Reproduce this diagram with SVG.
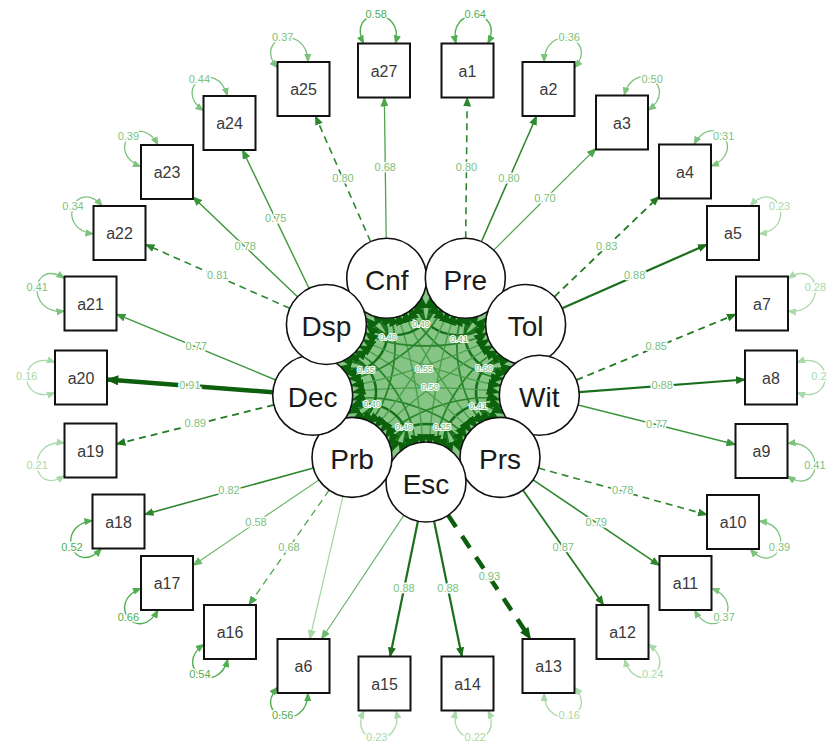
<svg xmlns="http://www.w3.org/2000/svg" xmlns:xlink="http://www.w3.org/1999/xlink" width="831" height="753" viewBox="0 0 831 753">
<style>
.bg{fill:#ffffff}
.box rect{fill:#ffffff;stroke:#111;stroke-width:2}
.box text{font-family:"Liberation Sans",Arial,sans-serif;font-size:16px;fill:#3a3a3a;text-anchor:middle}
.lat circle{fill:#ffffff;stroke:#111;stroke-width:1.6}
.lat text{font-family:"Liberation Sans",Arial,sans-serif;font-size:28px;fill:#1a1a1a;text-anchor:middle}
.e{fill:none}
.d{stroke-dasharray:7 5}
.w93{stroke:#0d5e0d;stroke-width:4.5}
.w88{stroke:#1b6f1b;stroke-width:2.2}
.w85{stroke:#237a23;stroke-width:1.8}
.w80{stroke:#2e862e;stroke-width:1.6}
.w75{stroke:#3c963c;stroke-width:1.4}
.w68{stroke:#4ea54e;stroke-width:1.3}
.w58{stroke:#6cb86c;stroke-width:1.2}
.wlo{stroke:#a5d6a5;stroke-width:1.2}
.lbl{font-family:"Liberation Sans",Arial,sans-serif;font-size:11px;fill:#7cbf7c;text-anchor:middle;dominant-baseline:middle;stroke:#ffffff;stroke-width:3;paint-order:stroke}
.rl{fill:none;stroke:#a9d9a9;stroke-width:1.3}
.rm{fill:none;stroke:#7dc27d;stroke-width:1.3}
.rh{fill:none;stroke:#4fae4f;stroke-width:1.4}
.tl{fill:#a9d9a9}
.tm{fill:#7dc27d}
.th{fill:#4fae4f}
.cov{fill:none}
.clbl{font-family:"Liberation Sans",Arial,sans-serif;font-size:9px;fill:#6fb86f;text-anchor:middle;dominant-baseline:middle;stroke:#ffffff;stroke-width:2;paint-order:stroke}
</style>
<defs>
<marker id="m93" viewBox="0 0 10 8" refX="9" refY="4" markerWidth="13" markerHeight="10" markerUnits="userSpaceOnUse" orient="auto-start-reverse"><path d="M0,0 L10,4 L0,8 z" fill="#0d5e0d"/></marker>
<marker id="m88" viewBox="0 0 10 8" refX="9" refY="4" markerWidth="10" markerHeight="8" markerUnits="userSpaceOnUse" orient="auto-start-reverse"><path d="M0,0 L10,4 L0,8 z" fill="#1b6f1b"/></marker>
<marker id="m85" viewBox="0 0 10 8" refX="9" refY="4" markerWidth="10" markerHeight="8" markerUnits="userSpaceOnUse" orient="auto-start-reverse"><path d="M0,0 L10,4 L0,8 z" fill="#237a23"/></marker>
<marker id="m80" viewBox="0 0 10 8" refX="9" refY="4" markerWidth="10" markerHeight="8" markerUnits="userSpaceOnUse" orient="auto-start-reverse"><path d="M0,0 L10,4 L0,8 z" fill="#2e862e"/></marker>
<marker id="m75" viewBox="0 0 10 8" refX="9" refY="4" markerWidth="10" markerHeight="8" markerUnits="userSpaceOnUse" orient="auto-start-reverse"><path d="M0,0 L10,4 L0,8 z" fill="#3c963c"/></marker>
<marker id="m68" viewBox="0 0 10 8" refX="9" refY="4" markerWidth="10" markerHeight="8" markerUnits="userSpaceOnUse" orient="auto-start-reverse"><path d="M0,0 L10,4 L0,8 z" fill="#4ea54e"/></marker>
<marker id="m58" viewBox="0 0 10 8" refX="9" refY="4" markerWidth="10" markerHeight="8" markerUnits="userSpaceOnUse" orient="auto-start-reverse"><path d="M0,0 L10,4 L0,8 z" fill="#6cb86c"/></marker>
<marker id="mlo" viewBox="0 0 10 8" refX="9" refY="4" markerWidth="10" markerHeight="8" markerUnits="userSpaceOnUse" orient="auto-start-reverse"><path d="M0,0 L10,4 L0,8 z" fill="#a5d6a5"/></marker>
<marker id="mrl" viewBox="0 0 10 8" refX="9" refY="4" markerWidth="9" markerHeight="8" markerUnits="userSpaceOnUse" orient="auto-start-reverse"><path d="M0,0 L10,4 L0,8 z" fill="#a9d9a9"/></marker>
<marker id="mrm" viewBox="0 0 10 8" refX="9" refY="4" markerWidth="9" markerHeight="8" markerUnits="userSpaceOnUse" orient="auto-start-reverse"><path d="M0,0 L10,4 L0,8 z" fill="#7dc27d"/></marker>
<marker id="mrh" viewBox="0 0 10 8" refX="9" refY="4" markerWidth="9" markerHeight="8" markerUnits="userSpaceOnUse" orient="auto-start-reverse"><path d="M0,0 L10,4 L0,8 z" fill="#4fae4f"/></marker>
<marker id="mcv" viewBox="0 0 10 8" refX="9" refY="4" markerWidth="14" markerHeight="12" markerUnits="userSpaceOnUse" orient="auto-start-reverse"><path d="M0,0 L10,4 L0,8 z" fill="#0c620c"/></marker>
<g id="covset">
<path class="cov" d="M84.36,25.71 C50.6,15.4 48.7,20.7 81.15,34.54" stroke="#1a751a" stroke-width="2.4" marker-start="url(#mcv)" marker-end="url(#mcv)"/>
<path class="cov" d="M79.87,19.13 C47.9,11.5 19.6,45.2 32.71,75.34" stroke="#16701a" stroke-width="2.6" marker-start="url(#mcv)" marker-end="url(#mcv)"/>
<path class="cov" d="M76.78,11.79 C46.1,7.1 -16.9,43.4 -28.18,72.39" stroke="#2a862a" stroke-width="1.8" marker-start="url(#mcv)" marker-end="url(#mcv)"/>
<path class="cov" d="M75.2,3.98 C45.1,2.4 -41.6,17.7 -69.31,29.46" stroke="#4a9f4a" stroke-width="1.4" marker-start="url(#mcv)" marker-end="url(#mcv)"/>
</g>
</defs>
<rect class="bg" x="0" y="0" width="831" height="753"/>

<g id="connectors">
<polygon points="426,278.3 495.5,301.4 532.5,359.9 519.7,426.4 463,469.7 389,469.7 332.4,426.4 319.6,359.9 356.6,301.4" fill="#86c586"/>
<g id="covariances">
<use xlink:href="#covset" transform="translate(426 377) scale(1 0.913) rotate(-110)"/>
<use xlink:href="#covset" transform="translate(426 377) scale(1 0.913) rotate(-70)"/>
<use xlink:href="#covset" transform="translate(426 377) scale(1 0.913) rotate(-30)"/>
<use xlink:href="#covset" transform="translate(426 377) scale(1 0.913) rotate(10)"/>
<use xlink:href="#covset" transform="translate(426 377) scale(1 0.913) rotate(50)"/>
<use xlink:href="#covset" transform="translate(426 377) scale(1 0.913) rotate(90)"/>
<use xlink:href="#covset" transform="translate(426 377) scale(1 0.913) rotate(130)"/>
<use xlink:href="#covset" transform="translate(426 377) scale(1 0.913) rotate(170)"/>
<use xlink:href="#covset" transform="translate(426 377) scale(1 0.913) rotate(210)"/>
<text class="clbl" x="421" y="325">0.40</text>
<text class="clbl" x="388" y="338">0.40</text>
<text class="clbl" x="459" y="340">0.41</text>
<text class="clbl" x="366" y="371">0.65</text>
<text class="clbl" x="484" y="369">0.60</text>
<text class="clbl" x="372" y="405">0.40</text>
<text class="clbl" x="478" y="407">0.41</text>
<text class="clbl" x="404" y="428">0.40</text>
<text class="clbl" x="442" y="428">0.25</text>
<text class="clbl" x="424" y="370">0.55</text>
<text class="clbl" x="430" y="388">0.50</text>
</g>

<g id="loadings">
<path class="e w68" d="M386.2,238.3 L384.35,97.5" marker-end="url(#m68)"/>
<path class="e w80 d" d="M370.6,241.7 L315.4,116" marker-end="url(#m80)"/>
<path class="e w80 d" d="M465.7,238.3 L467.2,97.5" marker-end="url(#m80)"/>
<path class="e w80" d="M481.4,241.7 L536.6,116" marker-end="url(#m80)"/>
<path class="e w68" d="M493.7,250.1 L596,148.4" marker-end="url(#m68)"/>
<path class="e w85 d" d="M554.4,296.8 L659,196.5" marker-end="url(#m85)"/>
<path class="e w88" d="M562.2,308.3 L707,244.5" marker-end="url(#m88)"/>
<path class="e w85 d" d="M576.3,380.1 L736,314.2" marker-end="url(#m85)"/>
<path class="e w88" d="M579.2,392.2 L745,379.5" marker-end="url(#m88)"/>
<path class="e w75" d="M578.1,405 L735.5,444.5" marker-end="url(#m75)"/>
<path class="e w80 d" d="M538.5,468.1 L707,514.8" marker-end="url(#m80)"/>
<path class="e w80" d="M533.1,479.8 L659.5,565.4" marker-end="url(#m80)"/>
<path class="e w85" d="M523,490.2 L603.6,605" marker-end="url(#m85)"/>
<path class="e w93" d="M448.2,515.3 L530.5,639" stroke-dasharray="14 11" marker-end="url(#m93)"/>
<path class="e w88" d="M434.1,521.2 L461.9,656.5" marker-end="url(#m88)"/>
<path class="e w88" d="M417.9,521.2 L390.1,656.5" marker-end="url(#m88)"/>
<path class="e w58" d="M403.8,515.3 L321.5,639" marker-end="url(#m58)"/>
<path class="e wlo" d="M342.9,496.4 L309.8,639" marker-end="url(#mlo)"/>
<path class="e w68 d" d="M329.1,490.2 L248.8,605" marker-end="url(#m68)"/>
<path class="e w58" d="M318.9,479.9 L193,565.4" marker-end="url(#m58)"/>
<path class="e w80" d="M313.4,468 L144.5,514.4" marker-end="url(#m80)"/>
<path class="e w85 d" d="M273.9,404.9 L116.5,444" marker-end="url(#m85)"/>
<path class="e w93" d="M272.8,392.2 L107,379.5" marker-end="url(#m93)"/>
<path class="e w75" d="M275.7,380 L116.5,314.2" marker-end="url(#m75)"/>
<path class="e w80 d" d="M289.8,308.3 L145.5,244.5" marker-end="url(#m80)"/>
<path class="e w75" d="M297.5,296.8 L193,196.9" marker-end="url(#m75)"/>
<path class="e w75" d="M309.1,288.5 L242.5,150" marker-end="url(#m75)"/>
<text class="lbl" x="385.3" y="168">0.68</text>
<text class="lbl" x="343" y="179">0.80</text>
<text class="lbl" x="466.5" y="168">0.80</text>
<text class="lbl" x="509" y="179">0.80</text>
<text class="lbl" x="545" y="199">0.70</text>
<text class="lbl" x="606.7" y="247">0.83</text>
<text class="lbl" x="634.6" y="276.4">0.88</text>
<text class="lbl" x="656.2" y="347.2">0.85</text>
<text class="lbl" x="662.1" y="386">0.88</text>
<text class="lbl" x="656.8" y="425">0.77</text>
<text class="lbl" x="622.8" y="491.5">0.78</text>
<text class="lbl" x="596.3" y="522.6">0.79</text>
<text class="lbl" x="563.3" y="547.6">0.87</text>
<text class="lbl" x="489.4" y="577.2">0.93</text>
<text class="lbl" x="448" y="589">0.88</text>
<text class="lbl" x="404" y="589">0.88</text>
<text class="lbl" x="289" y="547.6">0.68</text>
<text class="lbl" x="256" y="522.7">0.58</text>
<text class="lbl" x="229" y="491.2">0.82</text>
<text class="lbl" x="195.2" y="424.5">0.89</text>
<text class="lbl" x="189.9" y="386">0.91</text>
<text class="lbl" x="196.1" y="347.1">0.77</text>
<text class="lbl" x="217.7" y="276.4">0.81</text>
<text class="lbl" x="245.3" y="247">0.78</text>
<text class="lbl" x="275.8" y="219.3">0.75</text>
</g>

<g id="residuals">
<path class="rh" d="M456,43.5 C446.9,4.5 505.9,7.8 487.8,43.5" marker-start="url(#mrh)" marker-end="url(#mrh)"/>
<path class="rm" d="M544.1,62 C544.6,22 600.6,37.5 574.5,67.8" marker-start="url(#mrm)" marker-end="url(#mrm)"/>
<path class="rm" d="M624.2,95.5 C634.3,56.8 680.6,87 648,110.2" marker-start="url(#mrm)" marker-end="url(#mrm)"/>
<path class="rm" d="M694,144.5 C713.1,109.3 748.2,151.5 711,166.2" marker-start="url(#mrm)" marker-end="url(#mrm)"/>
<path class="rl" d="M750.1,206 C777,176.4 798.6,228.7 759,234" marker-start="url(#mrl)" marker-end="url(#mrl)"/>
<path class="rl" d="M788,278.6 C821.2,256.3 827.8,315.3 788,311" marker-start="url(#mrl)" marker-end="url(#mrl)"/>
<path class="rl" d="M797,362.5 C834.6,348.8 834.6,406.2 797,392.5" marker-start="url(#mrl)" marker-end="url(#mrl)"/>
<path class="rm" d="M787.5,443.5 C827.3,439.2 820.7,498.2 787.5,476" marker-start="url(#mrm)" marker-end="url(#mrm)"/>
<path class="rm" d="M759,521 C798.6,526.4 777,578.6 750.1,549" marker-start="url(#mrm)" marker-end="url(#mrm)"/>
<path class="rm" d="M711.5,588.3 C748.7,603 713.6,645.2 694.5,610" marker-start="url(#mrm)" marker-end="url(#mrm)"/>
<path class="rl" d="M648.5,644.3 C681.1,667.5 634.8,697.7 624.7,659" marker-start="url(#mrl)" marker-end="url(#mrl)"/>
<path class="rl" d="M574.5,687.2 C600.6,717.5 544.6,733 544.1,693" marker-start="url(#mrl)" marker-end="url(#mrl)"/>
<path class="rl" d="M487.8,710.5 C505.9,746.2 446.9,749.5 456,710.5" marker-start="url(#mrl)" marker-end="url(#mrl)"/>
<path class="rl" d="M396,710.5 C405.1,749.5 346.1,746.2 364.2,710.5" marker-start="url(#mrl)" marker-end="url(#mrl)"/>
<path class="rh" d="M307.9,693 C307.4,733 251.4,717.5 277.5,687.2" marker-start="url(#mrh)" marker-end="url(#mrh)"/>
<path class="rh" d="M227.8,659 C217.7,697.7 171.4,667.5 204,644.3" marker-start="url(#mrh)" marker-end="url(#mrh)"/>
<path class="rh" d="M158,610 C138.9,645.2 103.8,603 141,588.3" marker-start="url(#mrh)" marker-end="url(#mrh)"/>
<path class="rh" d="M101.4,548.5 C74.5,578.1 52.9,525.9 92.5,520.5" marker-start="url(#mrh)" marker-end="url(#mrh)"/>
<path class="rl" d="M64.5,475.5 C31.3,497.7 24.7,438.7 64.5,443" marker-start="url(#mrl)" marker-end="url(#mrl)"/>
<path class="rl" d="M55,392.5 C17.4,406.2 17.4,348.8 55,362.5" marker-start="url(#mrl)" marker-end="url(#mrl)"/>
<path class="rm" d="M64.5,311 C24.7,315.3 31.3,256.3 64.5,278.6" marker-start="url(#mrm)" marker-end="url(#mrm)"/>
<path class="rm" d="M93.5,234 C53.9,228.7 75.5,176.4 102.4,206" marker-start="url(#mrm)" marker-end="url(#mrm)"/>
<path class="rm" d="M141,166.7 C103.8,152 138.9,109.8 158,145" marker-start="url(#mrm)" marker-end="url(#mrm)"/>
<path class="rm" d="M203.5,110.7 C170.9,87.5 217.2,57.3 227.3,96" marker-start="url(#mrm)" marker-end="url(#mrm)"/>
<path class="rm" d="M277.5,67.8 C251.4,37.5 307.4,22 307.9,62" marker-start="url(#mrm)" marker-end="url(#mrm)"/>
<path class="rh" d="M363.7,43.5 C345.6,7.8 404.6,4.5 395.5,43.5" marker-start="url(#mrh)" marker-end="url(#mrh)"/>
<text class="lbl th" x="475.3" y="15.5">0.64</text>
<text class="lbl tm" x="569.3" y="38.5">0.36</text>
<text class="lbl tm" x="652.1" y="79.6">0.50</text>
<text class="lbl tm" x="723.6" y="136.6">0.31</text>
<text class="lbl tl" x="779.5" y="206.9">0.23</text>
<text class="lbl tl" x="815.4" y="288">0.28</text>
<text class="lbl tl" x="819" y="377.5">0.2</text>
<text class="lbl tm" x="814.9" y="466.5">0.41</text>
<text class="lbl tm" x="779.5" y="548.1">0.39</text>
<text class="lbl tm" x="724.1" y="617.9">0.37</text>
<text class="lbl tl" x="652.6" y="674.9">0.24</text>
<text class="lbl tl" x="569.3" y="716.5">0.16</text>
<text class="lbl tl" x="475.3" y="738.5">0.22</text>
<text class="lbl tl" x="376.7" y="738.5">0.23</text>
<text class="lbl th" x="282.7" y="716.5">0.56</text>
<text class="lbl th" x="199.9" y="674.9">0.54</text>
<text class="lbl th" x="128.4" y="617.9">0.66</text>
<text class="lbl th" x="72" y="547.6">0.52</text>
<text class="lbl tl" x="37.1" y="466">0.21</text>
<text class="lbl tl" x="26.8" y="377.5">0.16</text>
<text class="lbl tm" x="37.1" y="288">0.41</text>
<text class="lbl tm" x="73" y="206.9">0.34</text>
<text class="lbl tm" x="128.4" y="137.1">0.39</text>
<text class="lbl tm" x="199.4" y="80.1">0.44</text>
<text class="lbl tm" x="282.7" y="38.5">0.37</text>
<text class="lbl th" x="376.2" y="15.5">0.58</text>
</g>
</g>

<g id="node-Cnf" class="lat"><circle cx="386.7" cy="278.3" r="40"/><text x="386.7" y="290">Cnf</text></g>
<g id="node-Pre" class="lat"><circle cx="465.3" cy="278.3" r="40"/><text x="465.3" y="290">Pre</text></g>
<g id="node-Tol" class="lat"><circle cx="525.6" cy="324.5" r="40"/><text x="525.6" y="336">Tol</text></g>
<g id="node-Wit" class="lat"><circle cx="539.3" cy="395.3" r="40"/><text x="539.3" y="407">Wit</text></g>
<g id="node-Prs" class="lat"><circle cx="500" cy="457.4" r="40"/><text x="500" y="469">Prs</text></g>
<g id="node-Esc" class="lat"><circle cx="426" cy="482" r="40"/><text x="426" y="494">Esc</text></g>
<g id="node-Prb" class="lat"><circle cx="352" cy="457.4" r="40"/><text x="352" y="469">Prb</text></g>
<g id="node-Dec" class="lat"><circle cx="312.7" cy="395.3" r="40"/><text x="312.7" y="407">Dec</text></g>
<g id="node-Dsp" class="lat"><circle cx="326.4" cy="324.5" r="40"/><text x="326.4" y="336">Dsp</text></g>

<g id="node-a1" class="box"><rect x="441.5" y="43.5" width="52" height="54"/><text x="467.5" y="76.5">a1</text></g>
<g id="node-a2" class="box"><rect x="522.5" y="62" width="52" height="54"/><text x="548.5" y="95">a2</text></g>
<g id="node-a3" class="box"><rect x="596" y="95.5" width="52" height="54"/><text x="622" y="128.5">a3</text></g>
<g id="node-a4" class="box"><rect x="659" y="144.5" width="52" height="54"/><text x="685" y="177.5">a4</text></g>
<g id="node-a5" class="box"><rect x="707" y="206" width="52" height="54"/><text x="733" y="239">a5</text></g>
<g id="node-a7" class="box"><rect x="736" y="276.5" width="52" height="54"/><text x="762" y="309.5">a7</text></g>
<g id="node-a8" class="box"><rect x="745" y="350.5" width="52" height="54"/><text x="771" y="383.5">a8</text></g>
<g id="node-a9" class="box"><rect x="735.5" y="424" width="52" height="54"/><text x="761.5" y="457">a9</text></g>
<g id="node-a10" class="box"><rect x="707" y="495" width="52" height="54"/><text x="733" y="528">a10</text></g>
<g id="node-a11" class="box"><rect x="659.5" y="556" width="52" height="54"/><text x="685.5" y="589">a11</text></g>
<g id="node-a12" class="box"><rect x="596.5" y="605" width="52" height="54"/><text x="622.5" y="638">a12</text></g>
<g id="node-a13" class="box"><rect x="522.5" y="639" width="52" height="54"/><text x="548.5" y="672">a13</text></g>
<g id="node-a14" class="box"><rect x="441.5" y="656.5" width="52" height="54"/><text x="467.5" y="689.5">a14</text></g>
<g id="node-a15" class="box"><rect x="358.5" y="656.5" width="52" height="54"/><text x="384.5" y="689.5">a15</text></g>
<g id="node-a6" class="box"><rect x="277.5" y="639" width="52" height="54"/><text x="303.5" y="672">a6</text></g>
<g id="node-a16" class="box"><rect x="204" y="605" width="52" height="54"/><text x="230" y="638">a16</text></g>
<g id="node-a17" class="box"><rect x="141" y="556" width="52" height="54"/><text x="167" y="589">a17</text></g>
<g id="node-a18" class="box"><rect x="92.5" y="494.5" width="52" height="54"/><text x="118.5" y="527.5">a18</text></g>
<g id="node-a19" class="box"><rect x="64.5" y="423.5" width="52" height="54"/><text x="90.5" y="456.5">a19</text></g>
<g id="node-a20" class="box"><rect x="55" y="350.5" width="52" height="54"/><text x="81" y="383.5">a20</text></g>
<g id="node-a21" class="box"><rect x="64.5" y="276.5" width="52" height="54"/><text x="90.5" y="309.5">a21</text></g>
<g id="node-a22" class="box"><rect x="93.5" y="206" width="52" height="54"/><text x="119.5" y="239">a22</text></g>
<g id="node-a23" class="box"><rect x="141" y="145" width="52" height="54"/><text x="167" y="178">a23</text></g>
<g id="node-a24" class="box"><rect x="203.5" y="96" width="52" height="54"/><text x="229.5" y="129">a24</text></g>
<g id="node-a25" class="box"><rect x="277.5" y="62" width="52" height="54"/><text x="303.5" y="95">a25</text></g>
<g id="node-a27" class="box"><rect x="358" y="43.5" width="52" height="54"/><text x="384" y="76.5">a27</text></g>
</svg>
